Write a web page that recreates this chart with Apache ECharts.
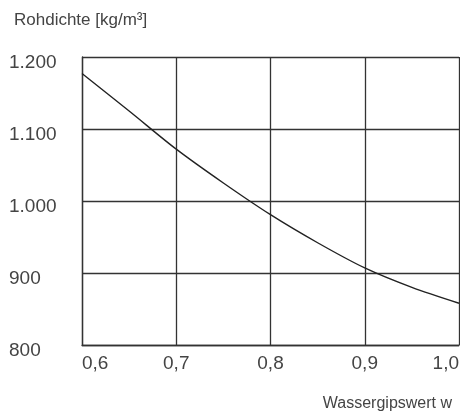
<!DOCTYPE html>
<html>
<head>
<meta charset="utf-8">
<script src="https://cdn.jsdelivr.net/npm/echarts@6/dist/echarts.min.js"></script>
<style>
html,body{margin:0;padding:0;background:#fff;}
#chart{width:460px;height:414px;}
</style>
</head>
<body>
<div id="chart"></div>
<script>
const titleText = 'Rohdichte [kg/m³]';
const xAxisName = 'Wassergipswert w';
const wValues = [0.60, 0.65, 0.70, 0.75, 0.80, 0.85, 0.90, 0.95, 1.00];
const densityValues = [1177, 1125, 1072, 1025, 981, 942, 907, 880, 858];
const xTicks = [0.6, 0.7, 0.8, 0.9, 1.0];
const yTicks = [800, 900, 1000, 1100, 1200];

const FONT = '"Liberation Sans", Arial, sans-serif';
const chart = echarts.init(document.getElementById('chart'), null, {renderer: 'canvas'});
chart.setOption({
  animation: false,
  backgroundColor: '#fff',
  title: [
    {text: titleText, left: 9, top: 7,
     textStyle: {fontFamily: FONT, fontSize: 17, fontWeight: 'normal', color: '#444'}},
    {text: xAxisName, right: 3, top: 391,
     textStyle: {fontFamily: FONT, fontSize: 16, fontWeight: 'normal', color: '#444'}}
  ],
  grid: {left: 82, right: 1, top: 57, bottom: 69, containLabel: false, outerBoundsMode: 'none'},
  xAxis: {
    type: 'value',
    min: xTicks[0], max: xTicks[xTicks.length - 1], interval: 0.1,
    axisLine: {show: true, lineStyle: {color: '#333', width: 1.3}},
    axisTick: {show: false},
    splitLine: {show: true, lineStyle: {color: '#333', width: 1.3}},
    axisLabel: {
      fontFamily: FONT, fontSize: 19, color: '#444', margin: 9,
      alignMinLabel: 'left', alignMaxLabel: 'right',
      formatter: v => v.toFixed(1).replace('.', ',')
    }
  },
  yAxis: {
    type: 'value',
    min: yTicks[0], max: yTicks[yTicks.length - 1], interval: 100,
    axisLine: {show: true, lineStyle: {color: '#333', width: 1.3}},
    axisTick: {show: false},
    splitLine: {show: true, lineStyle: {color: '#333', width: 1.3}},
    axisLabel: {
      fontFamily: FONT, fontSize: 19, color: '#444', margin: 73, align: 'left',
      verticalAlign: 'top', lineHeight: 12,
      formatter: v => v >= 1000 ? String(v).replace(/(\d)(\d{3})$/, '$1.$2') : String(v)
    }
  },
  series: [{
    type: 'line',
    data: wValues.map((w, i) => [w, densityValues[i]]),
    smooth: 0.3,
    showSymbol: false,
    lineStyle: {color: '#222', width: 1.4},
    clip: true
  }]
});
</script>
</body>
</html>
